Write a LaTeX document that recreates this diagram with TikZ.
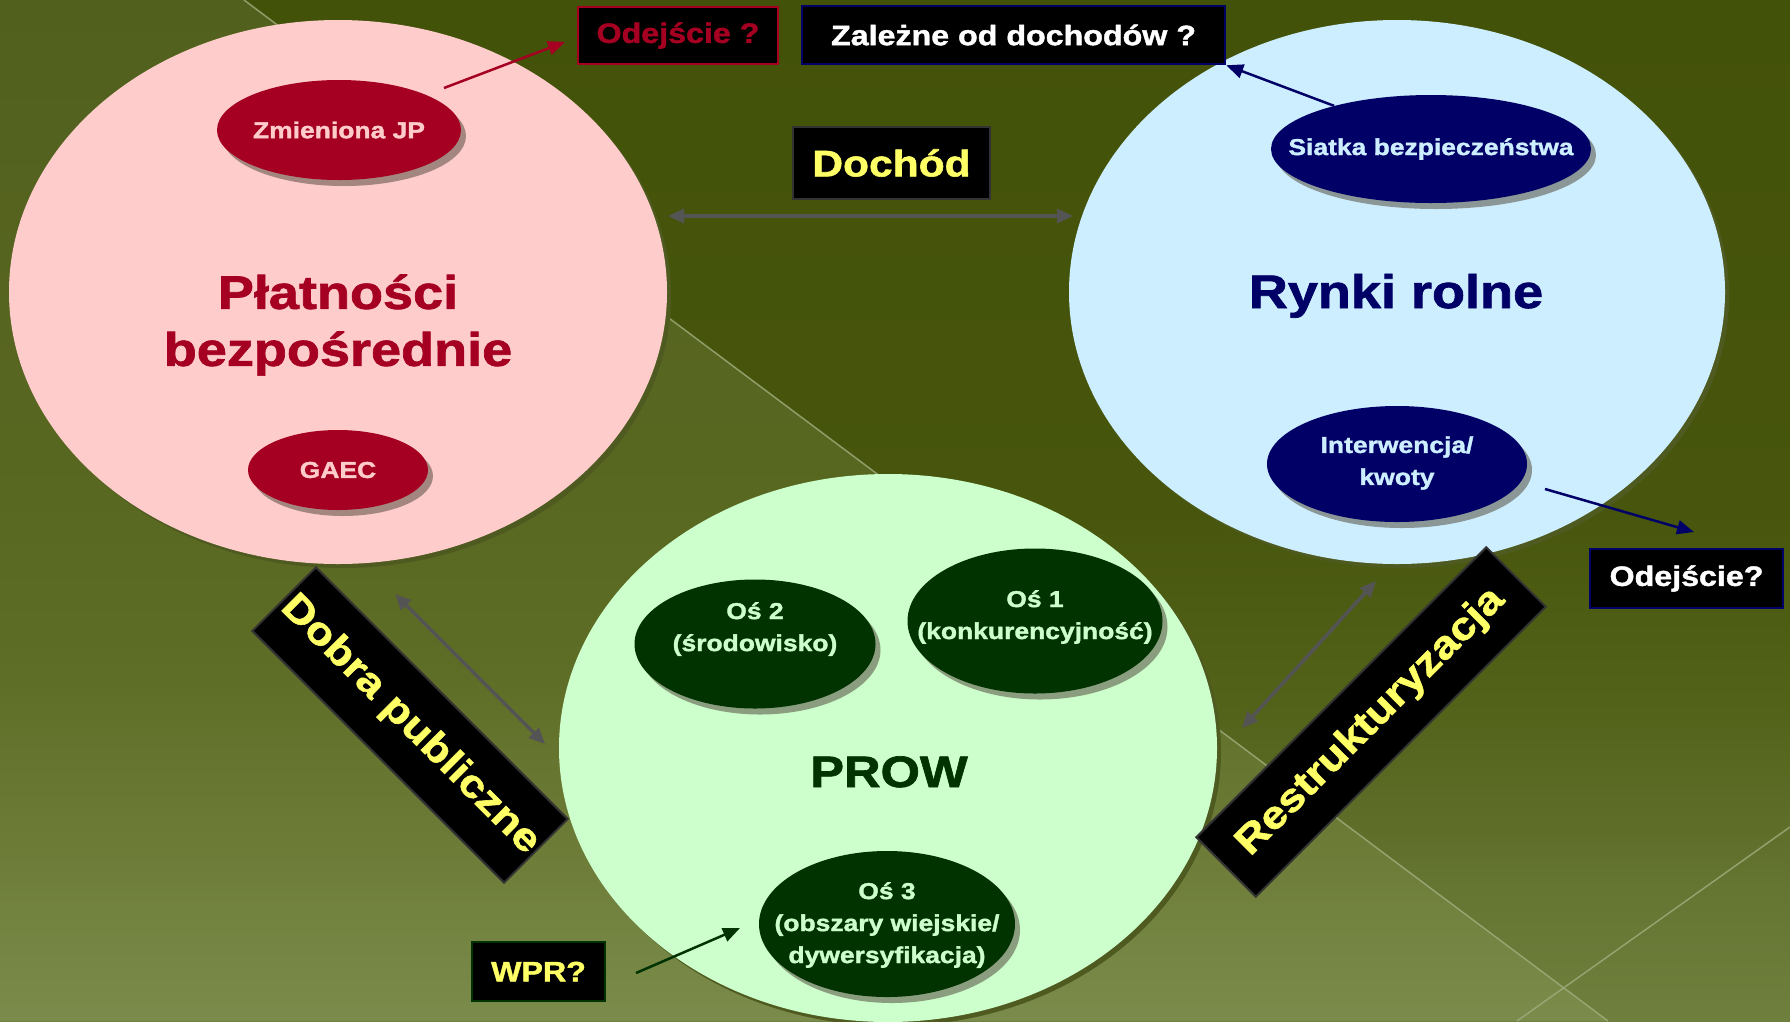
\documentclass[tikz,border=0pt]{standalone}
\usepackage{fontspec}
\setmainfont{Liberation Sans}
\newfontfamily\af{Liberation Sans Bold}[FakeStretch=1.15, FakeBold=1.5]
\usetikzlibrary{shapes.geometric,arrows.meta,shadows}
\definecolor{crim}{HTML}{A50021}
\definecolor{pinkf}{HTML}{FFCCCC}
\definecolor{bluef}{HTML}{CCEEFF}
\definecolor{greenf}{HTML}{CCFFCC}
\definecolor{navy}{HTML}{000066}
\definecolor{dgreen}{HTML}{003300}
\definecolor{yel}{HTML}{FFFF66}
\definecolor{dgray}{HTML}{333333}
\definecolor{arrgray}{HTML}{545454}
\definecolor{bigshadow}{HTML}{4E5A20}
\definecolor{smshadow}{HTML}{574E40}
\definecolor{bgline}{HTML}{A0AE7E}
\definecolor{rA}{HTML}{435209}
\definecolor{rB}{HTML}{47560C}
\definecolor{rC}{HTML}{53631A}
\definecolor{rD}{HTML}{647431}
\definecolor{rE}{HTML}{6F7F3D}
\definecolor{lA}{HTML}{52601E}
\definecolor{lB}{HTML}{586720}
\definecolor{lC}{HTML}{5E6D25}
\definecolor{lD}{HTML}{6F7F3B}
\definecolor{lE}{HTML}{7B8B4B}
\pgfdeclareverticalshading{bgR}{100bp}{color(0bp)=(rE); color(25bp)=(rE); color(32bp)=(rD); color(40bp)=(rC); color(50bp)=(rB); color(75bp)=(rA); color(100bp)=(rA)}
\pgfdeclareverticalshading{bgL}{100bp}{color(0bp)=(lE); color(25bp)=(lE); color(32bp)=(lD); color(42.5bp)=(lC); color(52.5bp)=(lB); color(75bp)=(lA); color(100bp)=(lA)}
\begin{document}
\begin{tikzpicture}[x=1pt,y=-1pt,
  big/.style={ellipse, inner sep=0pt, draw=none, minimum width=658pt, minimum height=544pt,
    drop shadow={shadow xshift=4pt, shadow yshift=-4pt, fill=bigshadow, opacity=1}},
  sm/.style={ellipse, inner sep=0pt, draw=none,
    drop shadow={shadow xshift=5pt, shadow yshift=-6pt, fill=smshadow, opacity=.55}},
  txt/.style={inner sep=0pt, align=center},
  stxt/.style={txt, font=\af\fontsize{23}{32}\selectfont},
  ttl/.style={txt, font=\af\fontsize{47}{57}\selectfont},
  box/.style={fill=black, draw, line width=2.5pt, inner sep=0pt, font=\af\fontsize{28}{34}\selectfont},
  rbox/.style={fill=black, draw=dgray, line width=2pt, inner sep=0pt, text=yel, font=\af\fontsize{39}{44}\selectfont},
  arr/.style={line width=2.5pt, -{Triangle[length=17pt,width=14pt]}},
  darr/.style={line width=3.5pt, color=arrgray, {Triangle[length=16pt,width=14pt]}-{Triangle[length=16pt,width=14pt]}},
  bgl/.style={line width=1.5pt, color=bgline, opacity=.8}
]
\useasboundingbox (0,0) rectangle (1790,1021);
% background
\shade[shading=bgR] (0,0) rectangle (1790,1021);
\shade[shading=bgL] (0,0) -- (244,0) -- (1608,1021) -- (0,1021) -- cycle;
\draw[bgl] (244,0) -- (1608,1021);
\draw[bgl] (1790,827) -- (1517,1021);

% big ellipses
\node[big, fill=pinkf] (pl) at (338,292) {};
\node[big, fill=bluef, minimum width=656pt] (ry) at (1397,292) {};
\node[big, fill=greenf, minimum height=548pt] (pr) at (888,748) {};

% titles
\node[ttl, text=crim] (plt) at (338,325) {Płatności\\bezpośrednie};
\node[ttl, text=navy, anchor=base] (ryt) at (1396,308) {Rynki rolne};
\node[txt, font=\af\fontsize{44}{50}\selectfont, text=dgreen, anchor=base] (prt) at (889,787) {PROW};

% small ellipses
\node[sm, fill=crim, minimum width=244pt, minimum height=100pt] (zjp) at (339,130) {};
\node[stxt, text=pinkf] (zjpt) at (339,130) {Zmieniona JP};
\node[sm, fill=crim, minimum width=180pt, minimum height=80pt] (gaec) at (338,470) {};
\node[stxt, text=pinkf] (gaect) at (338,470) {GAEC};
\node[sm, fill=navy, minimum width=320pt, minimum height=108pt] (siat) at (1431,149) {};
\node[stxt, text=bluef] (siatt) at (1431,149) {Siatka bezpieczeństwa};
\node[sm, fill=navy, minimum width=260pt, minimum height=116pt] (intw) at (1397,464) {};
\node[stxt, text=bluef] (intwt) at (1397,463) {Interwencja/\\kwoty};
\node[sm, fill=dgreen, minimum width=241pt, minimum height=129pt] (os2) at (755,644) {};
\node[stxt, text=greenf] (os2t) at (755,629) {Oś 2\\(środowisko)};
\node[sm, fill=dgreen, minimum width=255pt, minimum height=145pt] (os1) at (1035,621) {};
\node[stxt, text=greenf] (os1t) at (1035,617) {Oś 1\\(konkurencyjność)};
\node[sm, fill=dgreen, minimum width=256pt, minimum height=146pt] (os3) at (887,924) {};
\node[stxt, text=greenf] (os3t) at (887,925) {Oś 3\\(obszary wiejskie/\\dywersyfikacja)};

% boxes
\node[box, draw=crim, text=crim, minimum width=200pt, minimum height=57pt] (odj1) at (678,35.5) {Odejście ?};
\node[box, draw=navy, text=white, minimum width=423pt, minimum height=58pt] (zal) at (1013.5,35) {Zależne od dochodów ?};
\node[box, draw=dgray, text=yel, minimum width=197pt, minimum height=72pt, font=\af\fontsize{37}{44}\selectfont] (doch) at (891.5,163) {Dochód};
\node[box, draw=navy, text=white, minimum width=193pt, minimum height=59pt] (odj2) at (1686.5,578.5) {Odejście?};
\node[box, draw=dgreen, text=yel, minimum width=133pt, minimum height=59pt] (wpr) at (538.5,971.5) {WPR?};

% rotated boxes
\node[rbox, rotate=-45, minimum width=356pt, minimum height=90pt] (dob) at (410,725) {Dobra publiczne};
\node[rbox, rotate=45, minimum width=410pt, minimum height=84pt] (res) at (1371,722) {Restrukturyzacja};

% arrow end points
\coordinate (a1s) at (444,88);
\coordinate (a1e) at (565,42);
\coordinate (a3s) at (1545,489);
\coordinate (a3e) at (1694,532);
\coordinate (a4s) at (636,973);
\coordinate (a4e) at (740,928);
\coordinate (d1a) at (668,216);
\coordinate (d1b) at (1073,216);
\coordinate (d2a) at (395,594);
\coordinate (d2b) at (545,744);
\coordinate (d3a) at (1376,581);
\coordinate (d3b) at (1242,728);

% connectors
\draw[arr, color=crim] (a1s) -- (a1e);
\draw[arr, color=navy] (siat.156) -- (zal.south east);
\draw[arr, color=navy] (a3s) -- (a3e);
\draw[arr, color=dgreen] (a4s) -- (a4e);
\draw[darr] (d1a) -- (d1b);
\draw[darr] (d2a) -- (d2b);
\draw[darr] (d3a) -- (d3b);
\end{tikzpicture}
\end{document}
